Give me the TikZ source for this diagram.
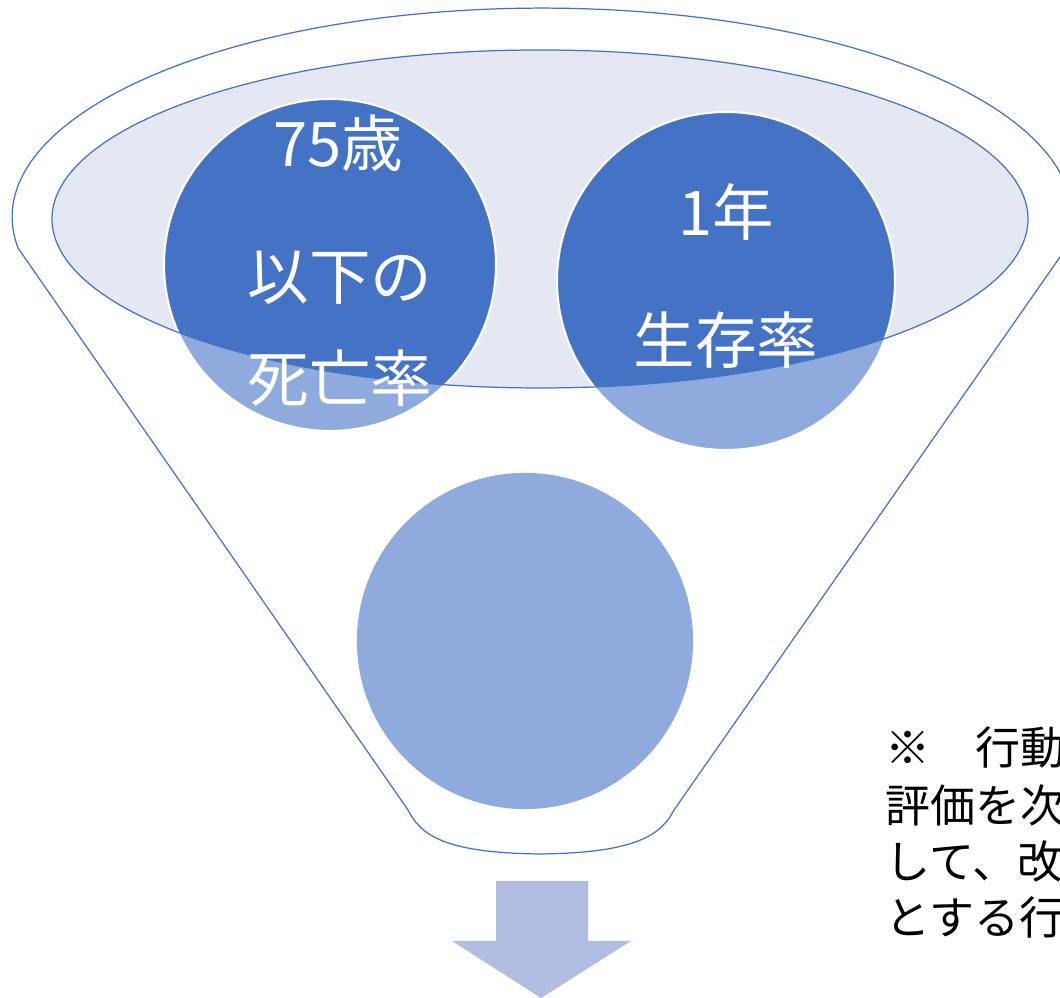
\documentclass[tikz,border=0pt]{standalone}
\usepackage{fontspec}
\newfontfamily\jpfont{Noto Sans CJK JP}
\definecolor{funnelblue}{HTML}{4472C4}
\definecolor{lightblue}{HTML}{8FAADC}
\definecolor{rimfill}{HTML}{E3E8F3}
\definecolor{arrowblue}{HTML}{B0BDE0}
\tikzset{
	bubble/.style={circle,fill=lightblue,minimum size=#1,inner sep=0pt},
	bubbletext/.style={text=white,font=\jpfont\fontsize{17.5}{20}\selectfont},
	notetext/.style={anchor=west,inner sep=0pt,font=\jpfont\fontsize{12.8}{14}\selectfont}
}
\begin{document}
\begin{tikzpicture}[>=stealth,x=0.01cm,y=0.01cm]
		\def\cx{540} % trục giữa của phễu
		\def\rx{488}
		\def\ry{169}
		\useasboundingbox (0,0) rectangle (1060,998);
		\clip (0,0) rectangle (1060,998);
		% phễu ngoài
		\draw[funnelblue,line width=0.35pt,fill=white] (18,750) arc[start angle=188.5,end angle=-8.5,x radius=530,y radius=209]
			-- (674,188) .. controls (662,165) and (640,145) .. (\cx,144)
			.. controls (440,145) and (420,165) .. (408,188) -- cycle;
		\fill[rimfill] (\cx,779) ellipse[x radius=\rx,y radius=\ry];
		% ba vòng tròn
		\node[bubble=3.32cm] (c1) at (330,733) {};
		\node[bubble=3.38cm] (c2) at (726,717) {};
		\node[bubble=3.36cm] (c3) at (525,357) {};
		\begin{scope}
			\clip (\cx,779) ellipse[x radius=\rx,y radius=\ry];
			\fill[funnelblue] (c1.center) circle (166);
			\fill[funnelblue] (c2.center) circle (169);
		\end{scope}
		\draw[white,line width=0.6pt] (c1.center) circle (166) (c2.center) circle (169);
		\draw[funnelblue,line width=0.35pt] (\cx,779) ellipse[x radius=\rx,y radius=\ry];
		% chữ trong vòng tròn
		\node[bubbletext] (t1) at (338,855) {75歳};
		\node[bubbletext] (t2) at (340,720) {以下の};
		\node[bubbletext] (t3) at (340,620) {死亡率};
		\node[bubbletext] (t4) at (726,786) {1年};
		\node[bubbletext] (t5) at (726,658) {生存率};
		% mũi tên xuống
		\fill[arrowblue] (496,117) -- (588,117) -- (588,57) -- (631,57) -- (541,0) -- (452,57) -- (496,57) -- cycle;
		% ghi chú bên phải
		\node[notetext] (n1) at (885,250) {※　行動};
		\node[notetext] (n2) at (885,193) {評価を次};
		\node[notetext] (n3) at (885,136) {して、改};
		\node[notetext] (n4) at (885,81) {とする行};
		\end{tikzpicture}
\end{document}
